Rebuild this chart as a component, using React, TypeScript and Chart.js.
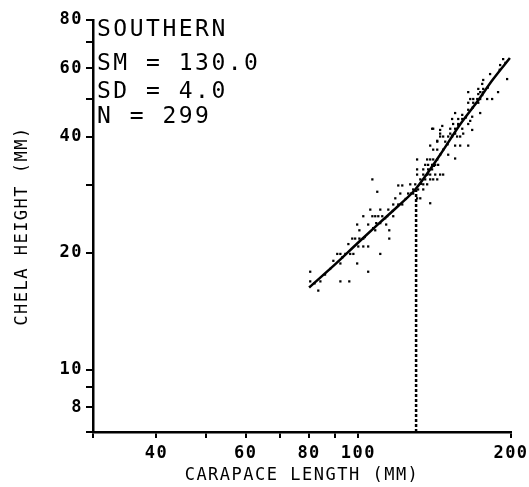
import { useEffect, useRef } from "react";
import { Chart, registerables } from "chart.js";

Chart.register(...registerables);

// Axis ranges and ticks (log-log)
const xRange = [30, 200];
const yRange = [6.9, 80];
const xTickValues = [30, 40, 50, 60, 70, 80, 90, 100, 200];
const xTickLabels = [40, 60, 80, 100, 200];
const yTickValues = [6.9, 8, 9, 10, 20, 30, 40, 50, 60, 70, 80];
const yTickLabels = [8, 10, 20, 40, 60, 80];

const xTitle = "CARAPACE LENGTH (MM)";
const yTitle = "CHELA HEIGHT (MM)";
const infoLines = ["SOUTHERN", "SM = 130.0", "SD = 4.0", "N = 299"];

// Fitted curve
const fitX = [80, 90, 100, 110, 120, 129.5, 145, 158.6, 171.5, 184.5, 199];
const fitY = [16.3, 18.7, 21.3, 23.9, 26.5, 29.2, 35.9, 42.9, 49.2, 56.3, 63.8];

// SM (size at maturity) marker
const smX = [130, 130];
const smY = [6.9, 29.2];

// Observations
const obsX = [
  105.6, 110.5, 114.6, 117.2, 119.9, 122.1, 102.3, 106.6, 108.0, 109.5, 111.5, 114.0, 117.2,
  99.5, 104.6, 108.5, 110.5, 113.5, 100.5, 108.0, 115.1, 97.3, 98.6, 100.5, 102.3, 115.1,
  95.6, 100.0, 102.3, 104.6, 90.9, 92.2, 94.3, 96.4, 97.8, 110.5, 89.3, 92.2, 99.5,
  80.4, 104.6, 80.4, 84.2, 92.2, 96.0, 83.4, 106.6, 109.0, 119.9, 122.1,
  139.8, 146.4, 145.0, 151.8, 155.2, 157.4, 160.3, 164.7, 145.0, 147.0, 150.4, 153.1, 158.8, 161.0,
  143.1, 148.4, 155.2, 158.8, 164.7, 138.6, 140.5, 143.1, 147.0, 145.0, 150.4,
  130.6, 136.7, 138.6, 140.5, 143.1, 155.2, 135.5, 137.3, 139.8, 141.8, 143.7,
  130.6, 134.3, 137.3, 139.8, 130.6, 134.3, 136.7, 138.6, 141.8, 145.0, 147.0,
  132.5, 135.5, 138.6, 140.5, 143.1, 134.3, 136.7, 126.6, 129.5, 128.3, 131.2, 134.3,
  121.0, 125.4, 128.3, 118.3, 130.6, 132.5, 138.6,
  193.0, 190.4, 181.9, 196.5, 176.3, 175.5, 172.4, 176.3, 164.7, 172.4, 173.9, 175.5, 188.6,
  166.2, 168.5, 171.6, 173.9, 179.5, 183.6, 164.7, 168.5, 172.4, 173.9, 164.7, 155.2, 160.3,
  153.1, 157.4, 160.3, 167.7, 166.2, 153.8, 157.4, 140.5, 167.7, 145.0, 151.8, 155.2, 156.6, 143.1,
  82, 86, 88, 93, 103, 107, 113, 117, 124, 127, 133, 137, 141, 150, 153, 163, 168, 176, 180, 190, 195,
];
const obsY = [
  25.9, 25.9, 25.9, 26.7, 26.7, 26.7, 24.9, 24.9, 24.9, 24.9, 24.9, 24.9, 24.9,
  23.7, 23.7, 23.9, 23.9, 23.7, 22.9, 22.9, 22.9, 21.8, 21.8, 21.8, 21.8, 21.8,
  21.1, 20.8, 20.8, 20.8, 19.9, 19.9, 19.9, 19.9, 19.9, 19.9, 19.1, 18.8, 18.8,
  17.9, 17.9, 16.9, 16.9, 16.9, 16.9, 16.0, 31.0, 28.8, 29.9, 29.9,
  41.9, 42.6, 41.6, 41.9, 41.9, 42.9, 41.9, 43.1, 40.0, 40.0, 40.0, 40.0, 40.0, 40.7,
  38.8, 38.8, 37.9, 37.9, 37.9, 37.9, 37.0, 37.0, 37.0, 35.9, 35.9,
  34.9, 34.9, 34.9, 34.9, 34.9, 35.1, 33.8, 33.8, 33.8, 33.8, 33.8,
  32.9, 32.9, 32.9, 32.9, 31.9, 31.9, 31.9, 31.9, 31.9, 31.9, 31.9,
  31.0, 31.0, 31.0, 31.0, 31.0, 30.1, 30.1, 30.1, 30.1, 29.2, 29.2, 29.2,
  28.5, 28.5, 28.5, 27.7, 27.7, 27.7, 26.9,
  63.4, 61.2, 58.0, 56.3, 56.0, 54.7, 53.1, 53.1, 52.1, 51.5, 52.1, 51.2, 52.1,
  50.0, 50.0, 50.0, 50.0, 50.0, 50.0, 48.9, 48.9, 48.9, 46.0, 46.9, 46.0, 45.5,
  44.4, 44.4, 44.4, 45.0, 43.9, 43.1, 43.1, 41.9, 41.6, 40.7, 40.7, 40.7, 40.0, 39.0,
  16.7, 17.6, 18.2, 19.5, 22.0, 23.2, 24.6, 25.7, 27.6, 28.5, 30.2, 32.0, 33.6, 38.2, 40.2, 44.8, 47.5, 52.0, 53.5, 59.5, 62.0,
];

const MONO = '"DejaVu Sans Mono", monospace';

const spacingPlugin = {
  id: "spacing",
  beforeUpdate(chart: any) {
    chart.ctx.letterSpacing = "1.5px";
  },
  beforeDraw(chart: any) {
    chart.ctx.letterSpacing = "1.5px";
  },
  afterDraw(chart: any) {
    const { ctx, chartArea } = chart;
    ctx.save();
    ctx.font = `23px ${MONO}`;
    ctx.letterSpacing = "2.5px";
    ctx.fillStyle = "#000";
    ctx.textAlign = "left";
    ctx.textBaseline = "alphabetic";
    const offsets = [16, 50, 78, 103];
    infoLines.forEach((t, i) => ctx.fillText(t, chartArea.left + 4, chartArea.top + offsets[i]));
    ctx.restore();
  },
};

export default function App() {
  const ref = useRef<HTMLCanvasElement | null>(null);
  useEffect(() => {
    if (!ref.current) return;
    const tickFont = { family: MONO, size: 17, weight: "bold" as const };
    const titleFont = { family: MONO, size: 17 };
    const chart = new Chart(ref.current, {
      type: "scatter",
      data: {
        datasets: [
          {
            label: "fit",
            data: fitX.map((x, i) => ({ x, y: fitY[i] })),
            showLine: true,
            borderColor: "#000",
            borderWidth: 2.5,
            pointRadius: 0,
            cubicInterpolationMode: "monotone",
          } as any,
          {
            label: "SM",
            data: smX.map((x, i) => ({ x, y: smY[i] })),
            showLine: true,
            borderColor: "#000",
            borderWidth: 2.5,
            borderDash: [3, 2],
            pointRadius: 0,
          } as any,
          {
            label: "obs",
            data: obsX.map((x, i) => ({ x, y: obsY[i] })),
            pointStyle: "rect",
            pointRadius: 1.6,
            pointBorderWidth: 0,
            backgroundColor: "#000",
            borderColor: "#000",
          } as any,
        ],
      },
      options: {
        animation: false,
        responsive: false,
        layout: { padding: { left: 0, right: 18, top: 20, bottom: 0 } },
        plugins: { legend: { display: false }, tooltip: { enabled: false } },
        scales: {
          x: {
            type: "logarithmic",
            min: xRange[0],
            max: xRange[1],
            afterBuildTicks: (s: any) => {
              s.ticks = xTickValues.map((v) => ({ value: v }));
            },
            afterFit: (s: any) => {
              s.height = 55;
              s.paddingLeft = 0;
              s.paddingRight = 0;
            },
            ticks: {
              autoSkip: false,
              maxRotation: 0,
              color: "#000",
              font: tickFont,
              padding: 5,
              callback: (v: any) => (xTickLabels.includes(Number(v)) ? String(v) : ""),
            },
            grid: { drawOnChartArea: false, color: "#000", lineWidth: 2, tickLength: 6 },
            border: { color: "#000", width: 2.5 },
            title: { display: true, text: xTitle, color: "#000", font: titleFont, padding: { top: 0, bottom: 1 } },
          },
          y: {
            type: "logarithmic",
            min: yRange[0],
            max: yRange[1],
            afterBuildTicks: (s: any) => {
              s.ticks = yTickValues.map((v) => ({ value: v }));
            },
            afterFit: (s: any) => {
              s.width = 93;
              s.paddingTop = 0;
              s.paddingBottom = 0;
            },
            ticks: {
              autoSkip: false,
              color: "#000",
              font: tickFont,
              padding: 3,
              callback: (v: any) => (yTickLabels.includes(Number(v)) ? String(v) : ""),
            },
            grid: { drawOnChartArea: false, color: "#000", lineWidth: 2, tickLength: 7 },
            border: { color: "#000", width: 2.5 },
            title: { display: true, text: yTitle, color: "#000", font: titleFont, padding: { top: 12, bottom: 0 } },
          },
        },
      },
      plugins: [spacingPlugin],
    } as any);
    return () => chart.destroy();
  }, []);
  return (
    <div style={{ position: "absolute", left: 0, top: 0, width: 529, height: 487, background: "#fff" }}>
      <canvas ref={ref} width={529} height={487} />
    </div>
  );
}
